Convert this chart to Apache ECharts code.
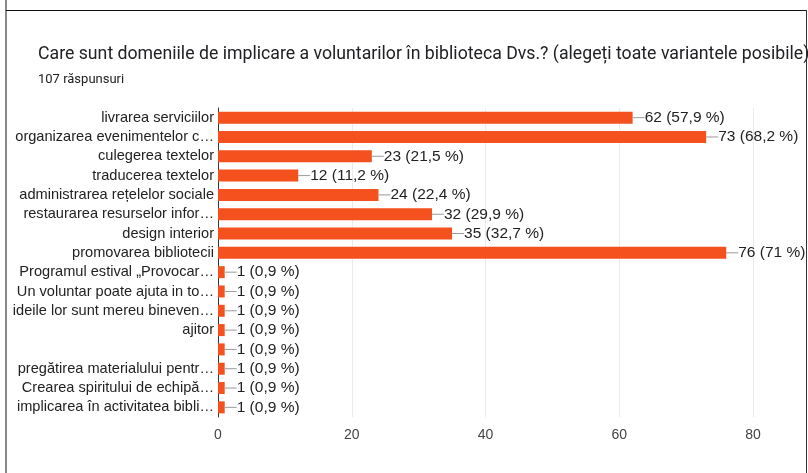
<!DOCTYPE html>
<html>
<head>
<meta charset="utf-8">
<style>
  html, body { margin: 0; padding: 0; background: #fff; }
  #chart { width: 808px; height: 473px; }
</style>
<script src="https://cdn.jsdelivr.net/npm/echarts@6/dist/echarts.min.js"></script>
</head>
<body>
<div id="chart"></div>
<script>
const categories = [
  "livrarea serviciilor",
  "organizarea evenimentelor c…",
  "culegerea textelor",
  "traducerea textelor",
  "administrarea rețelelor sociale",
  "restaurarea resurselor infor…",
  "design interior",
  "promovarea bibliotecii",
  "Programul estival „Provocar…",
  "Un voluntar poate ajuta in to…",
  "ideile lor sunt mereu bineven…",
  "ajitor",
  "",
  "pregătirea materialului pentr…",
  "Crearea spiritului de echipă…",
  "implicarea în activitatea bibli…"
];
const counts = [62, 73, 23, 12, 24, 32, 35, 76, 1, 1, 1, 1, 1, 1, 1, 1];
const percents = ["57,9", "68,2", "21,5", "11,2", "22,4", "29,9", "32,7", "71", "0,9", "0,9", "0,9", "0,9", "0,9", "0,9", "0,9", "0,9"];
const xTicks = [0, 20, 40, 60, 80];

const chart = echarts.init(document.getElementById("chart"), null, { renderer: "canvas" });

const option = {
  animation: false,
  textStyle: { fontFamily: "Liberation Sans, Arial, sans-serif" },
  title: {
    text: "Care sunt domeniile de implicare a voluntarilor în biblioteca Dvs.? (alegeți toate variantele posibile)",
    subtext: "107 răspunsuri",
    left: 33,
    top: 41,
    itemGap: 9,
    textStyle: { fontFamily: "Roboto, sans-serif", fontSize: 17.7, fontWeight: "normal", color: "#202124" },
    subtextStyle: { fontFamily: "Roboto, sans-serif", fontSize: 13, color: "#202124" }
  },
  graphic: [
    { type: "line", shape: { x1: 6, y1: 0, x2: 6, y2: 473 }, style: { stroke: "#888", lineWidth: 2 } },
    { type: "line", shape: { x1: 6, y1: 10.5, x2: 806, y2: 10.5 }, style: { stroke: "#111", lineWidth: 1 } },
    { type: "line", shape: { x1: 806.5, y1: 10, x2: 806.5, y2: 473 }, style: { stroke: "#333", lineWidth: 1 } }
  ],
  grid: { left: 218, right: 55, top: 108, bottom: 56, containLabel: false },
  xAxis: {
    type: "value",
    min: xTicks[0],
    max: xTicks[xTicks.length - 1],
    interval: 20,
    axisLine: { show: false },
    axisTick: { show: false },
    splitLine: { lineStyle: { color: "#ebebeb" } },
    axisLabel: { color: "#444", fontSize: 14, margin: 11 }
  },
  yAxis: {
    type: "category",
    data: categories,
    inverse: true,
    axisLine: { lineStyle: { color: "#333", width: 1 } },
    axisTick: { show: false },
    axisLabel: { color: "#222", fontSize: 14.6, margin: 4, interval: 0 }
  },
  series: [
    {
      type: "bar",
      data: counts,
      barWidth: 12,
      itemStyle: { color: "#f4511e" },
      label: {
        show: true,
        position: "right",
        distance: 0,
        formatter: (p) => "{l| }{v|" + counts[p.dataIndex] + " (" + percents[p.dataIndex] + " %)}",
        rich: {
          l: { width: 12, height: 1, backgroundColor: "#999", padding: 0 },
          v: { color: "#222", fontSize: 15.5, padding: [0, 0, 0, 0] }
        }
      }
    }
  ]
};

chart.setOption(option);
window.addEventListener("resize", chart.resize);
</script>
</body>
</html>
